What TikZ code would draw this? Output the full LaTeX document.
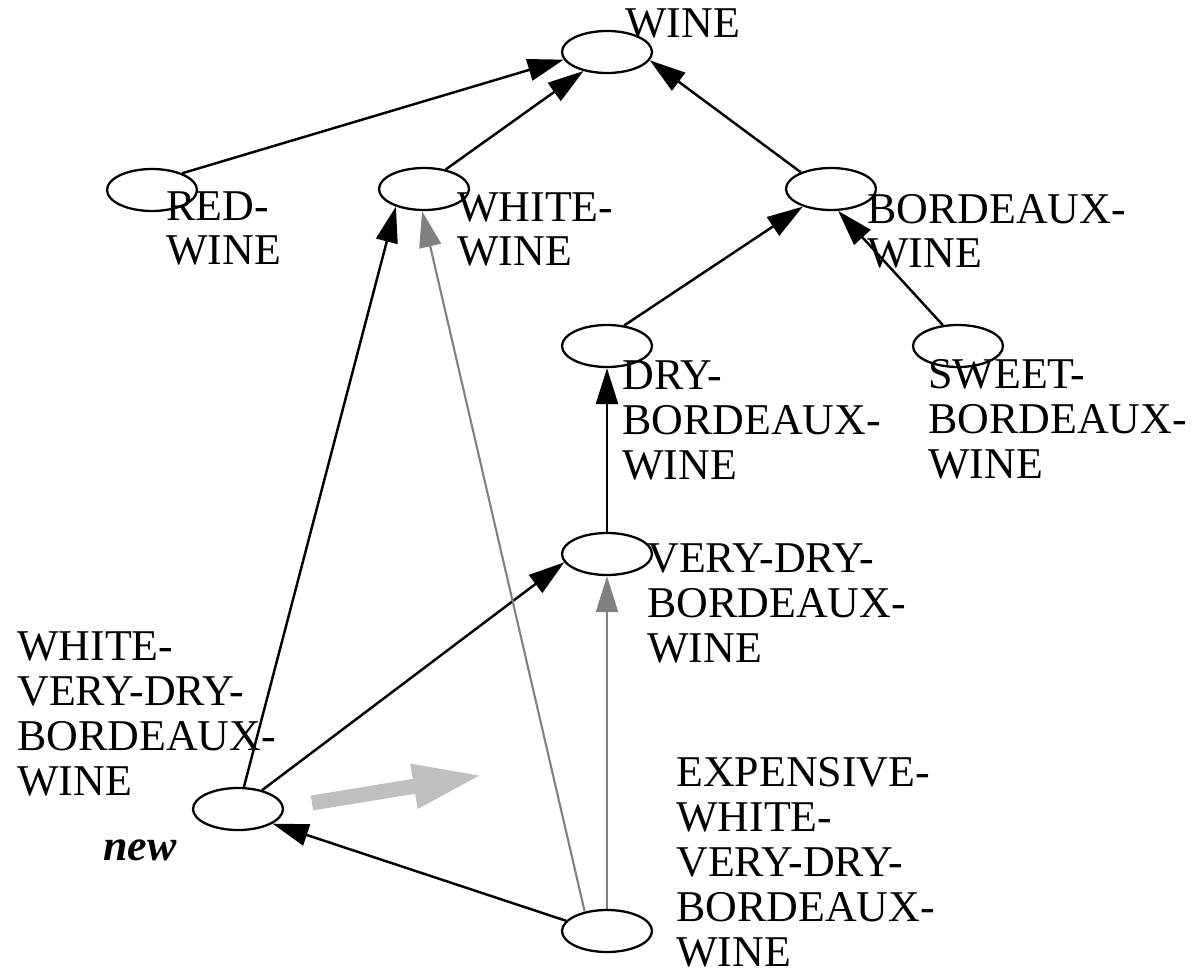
\documentclass[tikz,border=0pt]{standalone}
\usepackage{fontspec}
\setmainfont{Liberation Serif}
\usetikzlibrary{shapes.geometric, arrows.meta}

\tikzset{
  concept/.style = {ellipse, draw, line width = 1.3pt, minimum width = 1.8cm, minimum height = 0.84cm, inner sep = 0pt},
  lbl/.style = {anchor = base west, align = left, inner sep = 0pt, font = \fontsize{25}{25.6}\selectfont},
  isa/.style = {line width = 1.4pt, -{Triangle[length = 0.72cm, width = 0.44cm]}},
  isagray/.style = {isa, line width = 1.2pt, draw = gray, fill = gray}
}

\begin{document}
\begin{tikzpicture}[x = 0.02cm, y = -0.02cm]
\useasboundingbox (0,0) rectangle (1194,973);

\node[concept] (wine) at (607,52) {};
\node[concept] (red) at (152,190) {};
\node[concept] (white) at (424,189) {};
\node[concept] (bordeaux) at (831,189) {};
\node[concept] (dry) at (607,346) {};
\node[concept] (sweet) at (958,346) {};
\node[concept] (verydry) at (607,554) {};
\node[concept] (wvdb) at (238,809) {};
\node[concept] (expensive) at (607,931) {};

% labels sit on the baseline of their last line
\node[lbl] (wine-l) at (625,38) {WINE};
\node[lbl] (red-l) at (166,265) {RED-\\WINE};
\node[lbl] (white-l) at (457,266) {WHITE-\\WINE};
\node[lbl] (bordeaux-l) at (867,268) {BORDEAUX-\\WINE};
\node[lbl] (dry-l) at (622,479) {DRY-\\BORDEAUX-\\WINE};
\node[lbl] (sweet-l) at (928,478) {SWEET-\\BORDEAUX-\\WINE};
\node[lbl] (verydry-l) at (647,662) {VERY-DRY-\\BORDEAUX-\\WINE};
\node[lbl] (wvdb-l) at (17,795) {WHITE-\\VERY-DRY-\\BORDEAUX-\\WINE};
\node[lbl] (expensive-l) at (676,966) {EXPENSIVE-\\WHITE-\\VERY-DRY-\\BORDEAUX-\\WINE};
\node[lbl, font = \fontsize{25}{25.6}\selectfont\bfseries\itshape] (new-l) at (103,860) {new};

% subsumption links
\draw[isa] (red.29) -- (wine.190);
\draw[isa] (white.42) -- (wine.219);
\draw[isa] (bordeaux.151) -- (wine.349);
\draw[isa] (dry.50) -- (bordeaux.212);
\draw[isa] (sweet.126) -- (bordeaux.288);
\draw[isa] (verydry.north) -- (dry.south);
\draw[isa] (wvdb.75) -- (white.212);
\draw[isa] (wvdb.38) -- (verydry.191);
\draw[isa] (expensive.166) -- (wvdb.337);
\draw[isagray] (expensive.139) -- (white.265);
\draw[isagray] (expensive.north) -- (verydry.south);

% reclassification hint
\coordinate (hint-tail) at (312,803);
\coordinate (hint-tip) at (483,775);
\draw[line width = 0.3cm, gray!50, -{Triangle[length = 1.4cm, width = 0.82cm]}] (hint-tail) -- (hint-tip);
\end{tikzpicture}
\end{document}
